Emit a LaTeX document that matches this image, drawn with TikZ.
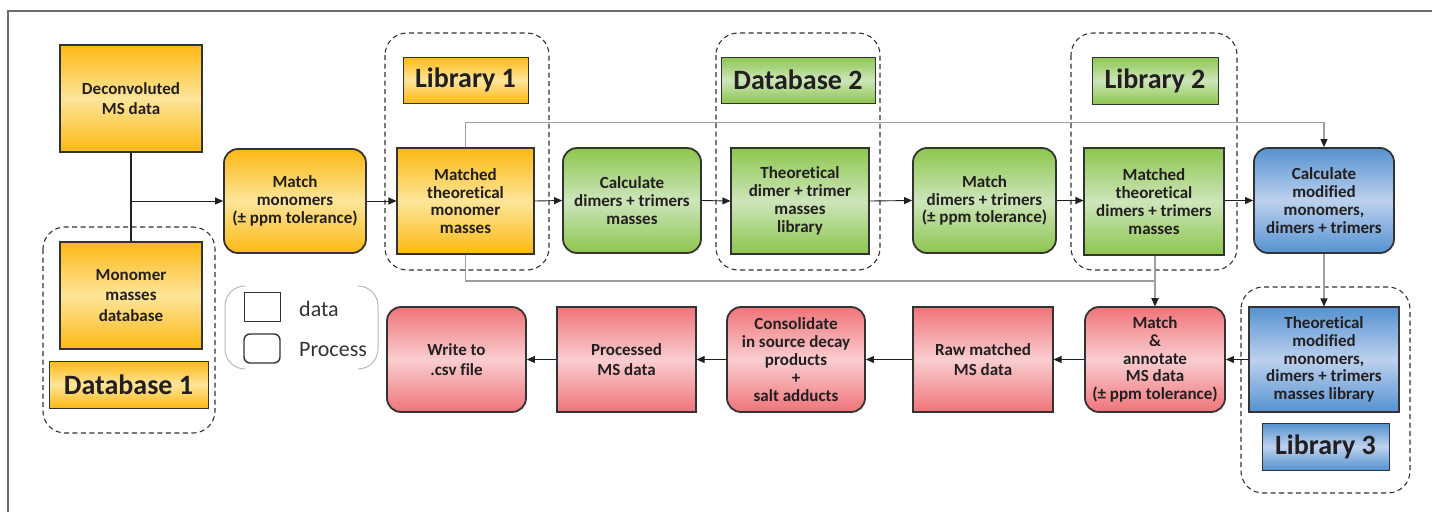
\documentclass[tikz,border=0pt]{standalone}
\usepackage{fontspec}
\setmainfont[Ligatures=NoCommon]{Carlito}
\usetikzlibrary{arrows.meta}

\definecolor{orA}{HTML}{FDB913}
\definecolor{orB}{HTML}{FDE59A}
\definecolor{grA}{HTML}{8CC64E}
\definecolor{grB}{HTML}{CDE5BA}
\definecolor{blA}{HTML}{5592D0}
\definecolor{blB}{HTML}{BDD1EE}
\definecolor{rdA}{HTML}{EF7479}
\definecolor{rdB}{HTML}{F9CDD0}
\definecolor{ink}{HTML}{231F20}
\definecolor{edge}{HTML}{333333}

\tikzset{
  base/.style={draw=edge, align=center, inner sep=0pt, text=ink,
    font=\fontsize{17}{17.8}\selectfont\bfseries},
  datab/.style={base, rectangle, line width=1.1pt},
  procb/.style={base, rectangle, rounded corners=14pt, line width=1.8pt},
  orangefill/.style={top color=orA, bottom color=orA, middle color=orB},
  greenfill/.style={top color=grA, bottom color=grA, middle color=grB},
  bluefill/.style={top color=blA, bottom color=blA, middle color=blB},
  redfill/.style={top color=rdA, bottom color=rdA, middle color=rdB},
  tag/.style={draw=edge, line width=1pt, rectangle, inner sep=0pt, text=ink,
    font=\fontsize{28}{30}\selectfont\bfseries},
  group/.style={draw=edge, dashed, dash pattern=on 5pt off 3.5pt,
    line width=1.1pt, rounded corners=22pt},
  flow/.style={draw=ink, line width=0.9pt,
    -{Triangle[length=8pt,width=7pt]}},
  loop/.style={draw=gray!75, line width=1.1pt,
    -{Triangle[length=8pt,width=7pt,fill=ink,color=ink]}},
}

\begin{document}
\begin{tikzpicture}[x=1pt,y=-1pt]
\useasboundingbox (0,0) rectangle (1432,512);

% outer frame
\draw[draw=gray!85!black, line width=1.6pt] (8,512) -- (8,11) -- (1432,11);

% dashed groups
\draw[group] (43,227) rectangle (215,433);
\draw[group] (385,33) rectangle (549,270);
\draw[group] (716,33) rectangle (880,270);
\draw[group] (1071,33) rectangle (1237,270);
\draw[group] (1241,287) rectangle (1410,493);

% inputs and database 1
\node[datab, orangefill, minimum width=142pt, minimum height=107pt]
  (dec) at (131,98.5) {Deconvoluted\\[2pt]MS data};
\node[datab, orangefill, minimum width=142pt, minimum height=107pt]
  (mono) at (131,295.5) {Monomer\\[3pt]masses\\[3pt]database};
\node[tag, orangefill, minimum width=159pt, minimum height=47pt]
  (db1) at (128.5,384.5) {Database 1};

% top row
\node[procb, orangefill, minimum width=142pt, minimum height=104pt]
  (matchmono) at (295,201) {Match\\monomers\\(± ppm tolerance)};
\node[tag, orangefill, minimum width=125pt, minimum height=46pt]
  (lib1) at (465.5,80) {Library 1};
\node[datab, orangefill, minimum width=137pt, minimum height=106pt]
  (mtm) at (465.5,201) {Matched\\theoretical\\monomer\\masses};
\node[procb, greenfill, minimum width=138pt, minimum height=105pt]
  (calcdt) at (632,200.5) {Calculate\\dimers + trimers\\masses};
\node[tag, greenfill, minimum width=154pt, minimum height=46pt]
  (db2) at (798,80) {Database 2};
\node[datab, greenfill, minimum width=138pt, minimum height=106pt]
  (tdt) at (800,201) {Theoretical\\dimer + trimer\\masses\\library};
\node[procb, greenfill, minimum width=143pt, minimum height=105pt]
  (matchdt) at (984.5,200.5) {Match\\dimers + trimers\\(± ppm tolerance)};
\node[tag, greenfill, minimum width=126pt, minimum height=47pt]
  (lib2) at (1155,80.5) {Library 2};
\node[datab, greenfill, minimum width=140pt, minimum height=107pt]
  (mdt) at (1154,201.5) {Matched\\theoretical\\dimers + trimers\\masses};
\node[procb, bluefill, minimum width=140pt, minimum height=105pt]
  (calcmod) at (1324,200.5) {Calculate\\modified\\monomers,\\dimers + trimers};

% bottom row
\node[datab, bluefill, minimum width=150pt, minimum height=105pt]
  (tmod) at (1324,359.5) {Theoretical\\modified\\monomers,\\dimers + trimers\\masses library};
\node[tag, bluefill, minimum width=127pt, minimum height=47pt]
  (lib3) at (1325.5,446.5) {Library 3};
\node[procb, redfill, minimum width=140pt, minimum height=105pt]
  (annot) at (1155,359.5) {Match\\\&\\annotate\\MS data\\(± ppm tolerance)};
\node[datab, redfill, minimum width=140pt, minimum height=105pt]
  (raw) at (983,359.5) {Raw matched\\[2pt]MS data};
\node[procb, redfill, minimum width=138pt, minimum height=105pt]
  (consol) at (796,359.5) {Consolidate\\in source decay\\products\\+\\salt adducts};
\node[datab, redfill, minimum width=139pt, minimum height=105pt]
  (proc) at (626.5,359.5) {Processed\\[2pt]MS data};
\node[procb, redfill, minimum width=139pt, minimum height=105pt]
  (write) at (456.5,359.5) {Write to\\[2pt].csv file};

% legend
\draw[gray!55, line width=1pt] (245,286) arc[start angle=90, end angle=180, radius=20pt]
  -- (225,349) arc[start angle=180, end angle=270, radius=20pt];
\draw[gray!55, line width=1pt] (358,286) arc[start angle=90, end angle=0, radius=20pt]
  -- (378,349) arc[start angle=0, end angle=-90, radius=20pt];
\node[draw=edge, line width=1pt, minimum width=36pt, minimum height=29pt, inner sep=0pt]
  (legdata) at (262,306.5) {};
\node[draw=edge, line width=1.4pt, rounded corners=6pt, minimum width=36pt,
  minimum height=29pt, inner sep=0pt] (legproc) at (262,348.5) {};
\node[anchor=west, inner sep=0pt, text=edge, font=\fontsize{22}{24}\selectfont]
  (legdatatxt) at (299,309) {data};
\node[anchor=west, inner sep=0pt, text=edge, font=\fontsize{22}{24}\selectfont]
  (legproctxt) at (299,350) {Process};

% connectors
\draw[ink, line width=1.8pt] (dec.south) -- (mono.north);
\coordinate (split) at (131,201);
\draw[flow] (split) -- (matchmono.west);
\draw[flow] (matchmono.east) -- (mtm.west);
\draw[flow] (mtm.east) -- (calcdt.west);
\draw[flow] (calcdt.east) -- (tdt.west);
\draw[flow] (tdt.east) -- (matchdt.west);
\draw[flow] (matchdt.east) -- (mdt.west |- matchdt.east);
\draw[flow] (mdt.east |- calcmod.west) -- (calcmod.west);

\draw[loop] (mtm.north) -- ++(0,-25) -| (calcmod.north);
\coordinate (lowturn) at (annot.north |- 0,281);
\draw[loop] (mtm.south) |- (lowturn) -- (annot.north);
\draw[loop] (annot.north |- mdt.south) -- (annot.north);
\draw[loop] (calcmod.south) -- (tmod.north);

\draw[flow] (tmod.west) -- (annot.east);
\draw[flow] (annot.west) -- (raw.east);
\draw[flow] (raw.west) -- (consol.east);
\draw[flow] (consol.west) -- (proc.east);
\draw[flow] (proc.west) -- (write.east);
\end{tikzpicture}
\end{document}
